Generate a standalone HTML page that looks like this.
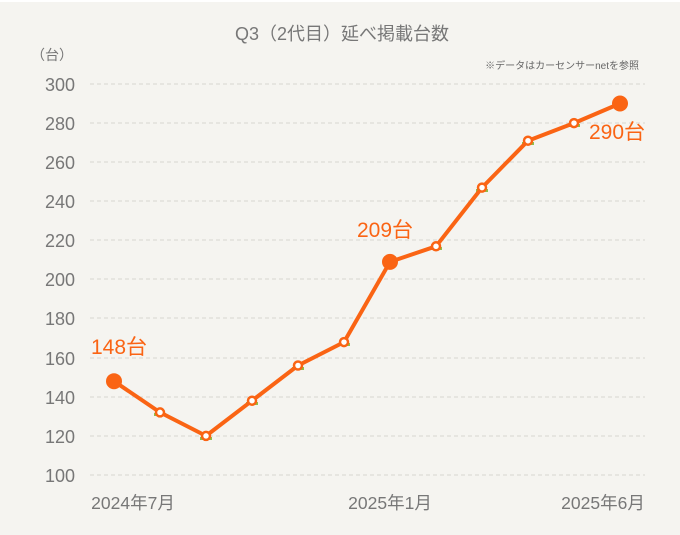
<!DOCTYPE html>
<html><head><meta charset="utf-8"><style>
body{margin:0;background:#fff}
svg{display:block;font-family:"Liberation Sans","Noto Sans CJK JP",sans-serif}
</style></head><body>
<svg width="680" height="535" viewBox="0 0 680 535">
<rect x="0" y="2" width="680" height="533" fill="#f5f4f0"/>
<text x="342" y="40" text-anchor="middle" font-size="18" fill="#777">Q3（2代目）延べ掲載台数</text>
<text x="31" y="60" font-size="14" fill="#777">（台）</text>
<text x="639" y="69" text-anchor="end" font-size="10" fill="#666">※データはカーセンサーnetを参照</text>
<g stroke="#d8d6d0" stroke-dasharray="4,3" stroke-width="1">
<line x1="90" x2="645" y1="84" y2="84"/><line x1="90" x2="645" y1="123" y2="123"/>
<line x1="90" x2="645" y1="162" y2="162"/><line x1="90" x2="645" y1="201" y2="201"/>
<line x1="90" x2="645" y1="240" y2="240"/><line x1="90" x2="645" y1="279" y2="279"/>
<line x1="90" x2="645" y1="318" y2="318"/><line x1="90" x2="645" y1="358" y2="358"/>
<line x1="90" x2="645" y1="397" y2="397"/><line x1="90" x2="645" y1="436" y2="436"/>
<line x1="90" x2="645" y1="475" y2="475"/>
</g>
<g font-size="18" fill="#777" text-anchor="end">
<text x="75" y="91">300</text><text x="75" y="130">280</text><text x="75" y="169">260</text>
<text x="75" y="208">240</text><text x="75" y="247">220</text><text x="75" y="286">200</text>
<text x="75" y="325">180</text><text x="75" y="365">160</text><text x="75" y="404">140</text>
<text x="75" y="443">120</text><text x="75" y="482">100</text>
</g>
<g font-size="17.5" fill="#777" text-anchor="middle">
<text x="133" y="509">2024年7月</text><text x="390" y="509">2025年1月</text><text x="603" y="509">2025年6月</text>
</g>
<g fill="#8fbf4a">
<rect x="154" y="413" width="12" height="3"/><rect x="200" y="437" width="12" height="3"/>
<rect x="246" y="402" width="12" height="3"/><rect x="292" y="367" width="12" height="3"/>
<rect x="338" y="343" width="12" height="3"/><rect x="430" y="247" width="12" height="3"/>
<rect x="476" y="189" width="12" height="3"/><rect x="522" y="142" width="12" height="3"/>
<rect x="568" y="124" width="12" height="3"/>
</g>
<polyline fill="none" stroke="#fa6414" stroke-width="4" stroke-linejoin="round" points="114,381.2 160,412.4 206,435.9 252,400.7 298,365.5 344,342.1 390,261.9 436,246.3 482,187.6 528,140.7 574,123.1 620,103.5"/>
<g fill="#fff" stroke="#fa6414" stroke-width="2.5">
<circle cx="160" cy="412.4" r="4"/><circle cx="206" cy="435.9" r="4"/><circle cx="252" cy="400.7" r="4"/>
<circle cx="298" cy="365.5" r="4"/><circle cx="344" cy="342.1" r="4"/><circle cx="436" cy="246.3" r="4"/>
<circle cx="482" cy="187.6" r="4"/><circle cx="528" cy="140.7" r="4"/><circle cx="574" cy="123.1" r="4"/>
</g>
<g fill="#fa6414">
<circle cx="114" cy="381.2" r="8"/><circle cx="390" cy="261.9" r="8"/><circle cx="620" cy="103.5" r="8"/>
</g>
<g font-size="21" fill="#fa6414">
<text x="91" y="354">148台</text><text x="357" y="237">209台</text><text x="589" y="139">290台</text>
</g>
</svg>
</body></html>
